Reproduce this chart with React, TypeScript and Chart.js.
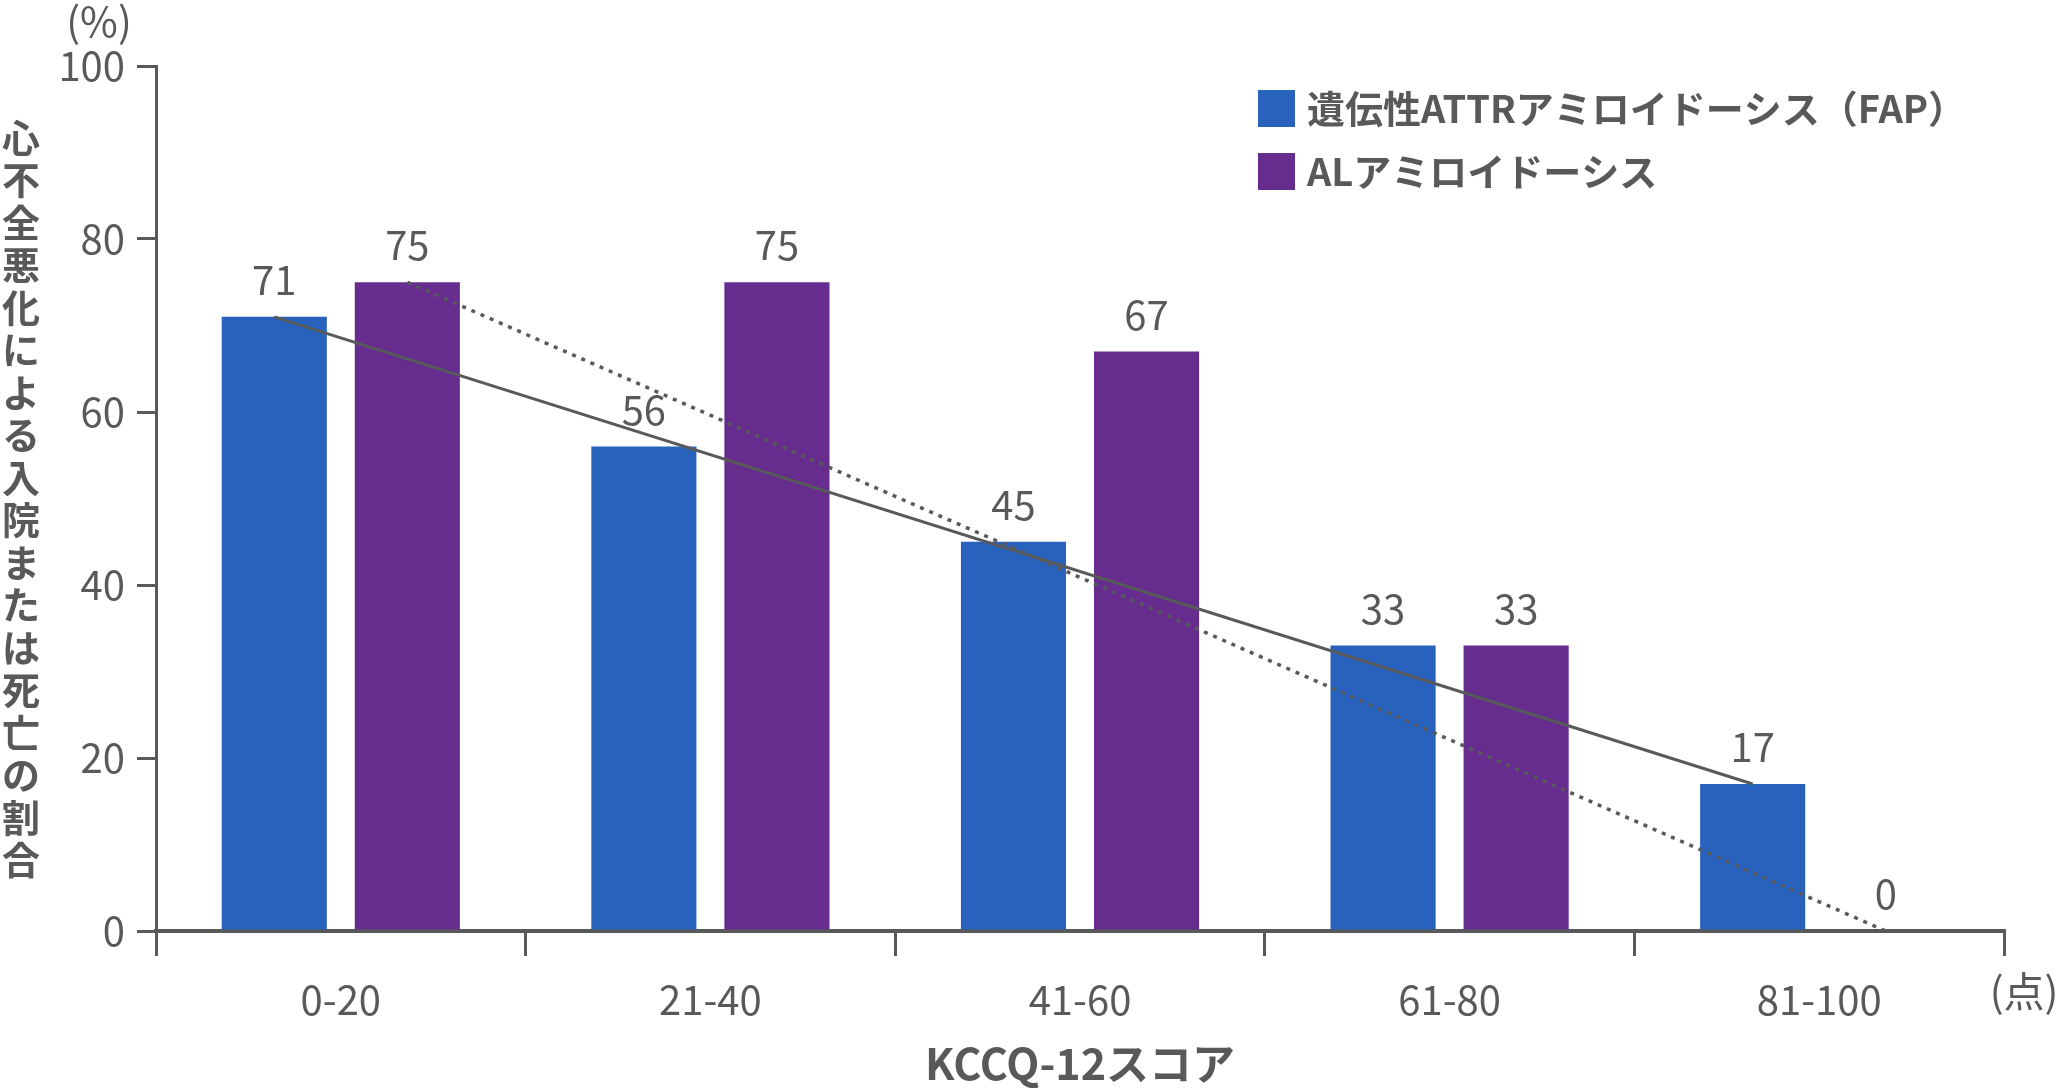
import { useEffect, useRef } from "react"
import { Chart, registerables } from "chart.js"

Chart.register(...registerables)

const categories = ["0-20", "21-40", "41-60", "61-80", "81-100"]
const fapValues = [71, 56, 45, 33, 17]
const alValues = [75, 75, 67, 33, 0]
// trend lines: value at first group, value at last group
const fapTrend = [71, 17]
const alTrend = [75, 0]
const yTicks = [0, 20, 40, 60, 80, 100]
const seriesLabels = ["遺伝性ATTRアミロイドーシス（FAP）", "ALアミロイドーシス"]
const yTitle = "心不全悪化による入院または死亡の割合"
const xTitle = "KCCQ-12スコア"
const yUnit = "(%)"
const xUnit = "(点)"

const GRAY = "#58595b"
const BLUE = "#2862bd"
const PURPLE = "#662d8f"
const FONT = "'Noto Sans CJK JP', 'Noto Sans', sans-serif"

const overlayPlugin = {
  id: "overlay",
  afterDatasetsDraw(chart: any) {
    const { ctx } = chart
    const y = chart.scales.y
    const trends = [fapTrend, alTrend]

    // trend lines between first and last bar of each series
    chart.data.datasets.forEach((_ds: any, i: number) => {
      const meta = chart.getDatasetMeta(i)
      const first = meta.data[0]
      const last = meta.data[meta.data.length - 1]
      ctx.save()
      ctx.strokeStyle = GRAY
      ctx.lineWidth = i === 0 ? 3 : 3.5
      ctx.setLineDash(i === 0 ? [] : [4, 6])
      ctx.beginPath()
      ctx.moveTo(first.x, y.getPixelForValue(trends[i][0]))
      ctx.lineTo(last.x, y.getPixelForValue(trends[i][1]))
      ctx.stroke()
      ctx.restore()
    })

    // value labels
    ctx.save()
    ctx.fillStyle = GRAY
    ctx.font = `400 40px ${FONT}`
    ctx.textAlign = "center"
    ctx.textBaseline = "middle"
    chart.data.datasets.forEach((ds: any, i: number) => {
      const meta = chart.getDatasetMeta(i)
      meta.data.forEach((el: any, j: number) => {
        ctx.fillText(String(ds.data[j]), el.x, el.y - 37)
      })
    })
    ctx.restore()
  },
  afterDraw(chart: any) {
    const { ctx, chartArea } = chart
    ctx.save()
    ctx.fillStyle = GRAY
    ctx.textAlign = "center"
    ctx.textBaseline = "middle"

    // units
    ctx.font = `400 41px ${FONT}`
    ctx.fillText(yUnit, 99, 21)
    ctx.fillText(xUnit, 2024, 991)

    // vertical y title, upright characters
    ctx.font = `700 38px ${FONT}`
    const chars = Array.from(yTitle)
    const step = 42.5
    const cy = (chartArea.top + chartArea.bottom) / 2
    chars.forEach((c, k) => {
      ctx.fillText(c, 21, cy + (k - (chars.length - 1) / 2) * step)
    })

    // legend
    ctx.textAlign = "left"
    ctx.font = `700 38px ${FONT}`
    chart.data.datasets.forEach((ds: any, i: number) => {
      const top = 90 + i * 63
      ctx.fillStyle = ds.backgroundColor
      ctx.fillRect(1258, top, 37, 37)
      ctx.fillStyle = GRAY
      ctx.fillText(ds.label, 1307, top + 19)
    })
    ctx.restore()
  },
}

export default function App() {
  const chartRef = useRef<HTMLCanvasElement>(null)
  const chartInstance = useRef<Chart | null>(null)

  useEffect(() => {
    if (!chartRef.current) return
    const ctx = chartRef.current.getContext("2d")
    if (!ctx) return
    if (chartInstance.current) chartInstance.current.destroy()

    Chart.defaults.font.family = FONT

    chartInstance.current = new Chart(ctx, {
      type: "bar",
      data: {
        labels: categories,
        datasets: [
          { label: seriesLabels[0], data: fapValues, backgroundColor: BLUE, borderWidth: 0 },
          { label: seriesLabels[1], data: alValues, backgroundColor: PURPLE, borderWidth: 0 },
        ],
      },
      options: {
        responsive: true,
        maintainAspectRatio: false,
        animation: false,
        devicePixelRatio: 1,
        categoryPercentage: 0.72,
        barPercentage: 0.79,
        layout: { padding: { left: 0, right: 56, top: 66, bottom: 0 } },
        plugins: {
          legend: { display: false },
          tooltip: { enabled: false },
        },
        scales: {
          x: {
            grid: {
              offset: true,
              drawOnChartArea: false,
              drawTicks: true,
              tickLength: 25,
              color: GRAY,
              lineWidth: 3,
            },
            border: { display: true, color: GRAY, width: 4 },
            ticks: {
              color: GRAY,
              padding: 20,
              maxRotation: 0,
              autoSkip: false,
              font: { size: 40, weight: 400 },
            },
            title: {
              display: true,
              text: xTitle,
              color: GRAY,
              font: { size: 43, weight: 700 },
              padding: { top: 0, bottom: 0 },
            },
            afterFit: (scale: any) => {
              scale.height = 158
            },
          },
          y: {
            min: 0,
            max: 100,
            afterBuildTicks: (scale: any) => {
              scale.ticks = yTicks.map((v) => ({ value: v }))
            },
            grid: {
              drawOnChartArea: false,
              drawTicks: true,
              tickLength: 19,
              color: GRAY,
              lineWidth: 3,
            },
            border: { display: true, color: GRAY, width: 3 },
            ticks: {
              color: GRAY,
              padding: 12,
              font: { size: 40, weight: 400 },
            },
            afterFit: (scale: any) => {
              scale.width = 156
            },
          },
        },
      },
      plugins: [overlayPlugin],
    })

    return () => {
      if (chartInstance.current) {
        chartInstance.current.destroy()
        chartInstance.current = null
      }
    }
  }, [])

  return (
    <div style={{ position: "fixed", left: 0, top: 0, width: 2060, height: 1089, background: "#ffffff" }}>
      <canvas ref={chartRef}></canvas>
    </div>
  )
}
